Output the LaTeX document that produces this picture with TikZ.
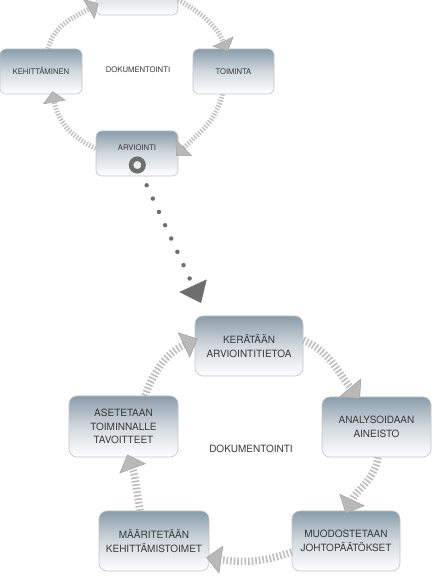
\documentclass[tikz,border=0pt]{standalone}
\usepackage{fontspec}
\setmainfont{TeX Gyre Heros}
\usetikzlibrary{arrows.meta}
\definecolor{boxtop}{HTML}{8A9CAA}
\definecolor{boxedge}{HTML}{C4C4C4}
\definecolor{ringgray}{HTML}{BEBEBE}
\definecolor{tipfill}{HTML}{B9B9B9}
\definecolor{tipedge}{HTML}{A0A0A0}
\definecolor{dotgray}{HTML}{6E6E6E}
\definecolor{txtgray}{HTML}{3A3A3A}
\begin{document}
\begin{tikzpicture}[x=1pt,y=1pt,
  cbox/.style={draw=boxedge, line width=0.6pt, top color=boxtop, bottom color=white, middle color=boxtop!38!white, inner sep=0pt, text=txtgray, align=center},
  smallbox/.style={cbox, rounded corners=6pt, minimum width=82pt, minimum height=45pt, font=\fontsize{7.7}{9}\selectfont},
  bigbox/.style={cbox, rounded corners=8pt, minimum width=109pt, minimum height=60pt, font=\fontsize{10}{13.3}\selectfont},
  smalltxt/.style={text=txtgray, inner sep=0pt, font=\fontsize{7.7}{9}\selectfont},
  bigtxt/.style={text=txtgray, inner sep=0pt, font=\fontsize{10}{13.3}\selectfont},
  smallring/.style={draw=ringgray, line width=5pt, dash pattern=on 1.3pt off 1.7pt, shorten >=-3pt, -{Triangle[length=11pt,width=23pt,fill=tipfill,color=tipedge,line width=0.5pt]}},
  bigring/.style={draw=ringgray, line width=7.5pt, dash pattern=on 1.6pt off 2pt, shorten >=-3pt, -{Triangle[length=15pt,width=28pt,fill=tipfill,color=tipedge,line width=0.5pt]}},
  dotline/.style={draw=dotgray, line width=4.4pt, line cap=round, dash pattern=on 0pt off 14.66pt, dash phase=4.76pt, -{Triangle[length=19pt,width=30pt,fill=dotgray,color=dotgray,line width=0.3pt]}},
  iconring/.style={circle, draw=dotgray, line width=4.5pt, minimum size=12.5pt, inner sep=0pt}
]
\fill[white] (0,0) rectangle (432,576);
\useasboundingbox (0,0) rectangle (432,576);

% upper cycle
\node[smallbox] (topbox) at (137,583.5) {};
\node[smallbox] (keh) at (41,504.5) {KEHITTÄMINEN};
\node[smallbox, minimum width=81pt] (toim) at (233.5,504.5) {TOIMINTA};
\node[smallbox] (arv) at (137,422.5) {};
\node[smalltxt] (arvt) at (137,428) {ARVIOINTI};
\node[iconring] (ico) at (137.3,411) {};
\node[smalltxt] (doc1) at (138,506) {DOKUMENTOINTI};

% lower cycle
\node[bigbox, minimum width=108pt] (ker) at (249,230) {KERÄTÄÄN\\ARVIOINTITIETOA};
\node[bigbox] (ana) at (376.5,149) {ANALYSOIDAAN\\AINEISTO};
\node[bigbox, minimum height=61pt] (ase) at (123.5,149.5) {ASETETAAN\\TOIMINNALLE\\TAVOITTEET};
\node[bigbox, minimum width=110pt] (maa) at (154,35) {MÄÄRITETÄÄN\\KEHITTÄMISTOIMET};
\node[bigbox, minimum width=108pt] (muo) at (346,35) {MUODOSTETAAN\\JOHTOPÄÄTÖKSET};
\node[bigtxt] (doc2) at (251,127) {DOKUMENTOINTI};

% upper ring
\draw[smallring] (topbox.-10) to[out=-30,in=115] ([xshift=-7pt]toim.north);
\draw[smallring] ([xshift=-11pt]toim.south) to[out=-104,in=45] (arv.east);
\draw[smallring] ([yshift=5pt]arv.west) to[out=155,in=-80] ([xshift=12pt]keh.south);
\draw[smallring] ([xshift=7pt]keh.north) to[out=75,in=210] ([yshift=-12.5pt]topbox.west);

% lower ring
\draw[bigring] ([xshift=21.5pt]ase.north) to[out=70,in=205] ([yshift=6pt]ker.west);
\draw[bigring] ([yshift=6pt]ker.east) to[out=-25,in=130] ([xshift=-18.5pt]ana.north);
\draw[bigring] ([xshift=1.5pt]ana.south) to[out=-100,in=65] ([xshift=1pt]muo.north);
\draw[bigring] ([yshift=-11pt]muo.west) to[out=200,in=-8] ([yshift=-17pt]maa.east);
\draw[bigring] ([xshift=-14pt]maa.north) to[out=100,in=-70] ([xshift=5pt]ase.south);

% dotted link
\coordinate (dend) at (201,273);
\draw[dotline] ([xshift=5.5pt]arv.south) -- (dend);
\end{tikzpicture}
\end{document}
